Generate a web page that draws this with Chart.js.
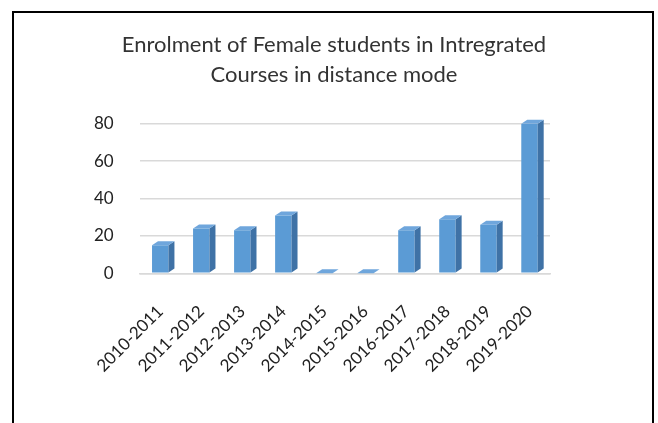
<!DOCTYPE html>
<html>
<head>
<meta charset="utf-8">
<script src="https://cdn.jsdelivr.net/npm/chart.js@4.4.0/dist/chart.umd.min.js"></script>
<style>
  html, body { margin: 0; padding: 0; background: #fff; }
  #wrap { position: relative; width: 658px; height: 423px; }
  #frame {
    position: absolute; left: 12px; top: 11px; width: 638px; height: 420px;
    border: 2px solid #000; border-bottom: none; pointer-events: none;
  }
</style>
</head>
<body>
<div id="wrap">
  <canvas id="chart" width="658" height="423"></canvas>
  <div id="frame"></div>
</div>
<script>
const years = ['2010-2011', '2011-2012', '2012-2013', '2013-2014', '2014-2015',
               '2015-2016', '2016-2017', '2017-2018', '2018-2019', '2019-2020'];
const enrolment = [15, 24, 23, 31, 0, 0, 23, 29, 26, 80];
const yTicks = [0, 20, 40, 60, 80];

// fake 3D look: side and top faces from each bar's own geometry
const depth = {
  id: 'depth',
  afterDatasetsDraw(chart) {
    const ctx = chart.ctx;
    const meta = chart.getDatasetMeta(0);
    const dx = 6, dy = -4;
    meta.data.forEach(bar => {
      const p = bar.getProps(['x', 'y', 'base', 'width'], true);
      const l = p.x - p.width / 2, r = p.x + p.width / 2;
      ctx.save();
      ctx.fillStyle = '#3F72A6';
      ctx.beginPath();
      ctx.moveTo(r, p.base);
      ctx.lineTo(r + dx, p.base + dy);
      ctx.lineTo(r + dx, p.y + dy);
      ctx.lineTo(r, p.y);
      ctx.closePath();
      ctx.fill();
      ctx.fillStyle = '#6FA6DC';
      ctx.beginPath();
      ctx.moveTo(l, p.y);
      ctx.lineTo(l + dx, p.y + dy);
      ctx.lineTo(r + dx, p.y + dy);
      ctx.lineTo(r, p.y);
      ctx.closePath();
      ctx.fill();
      ctx.restore();
    });
  }
};

new Chart(document.getElementById('chart'), {
  type: 'bar',
  data: {
    labels: years,
    datasets: [{
      data: enrolment,
      backgroundColor: '#5B9BD5',
      barPercentage: 0.4,
      categoryPercentage: 1.0
    }]
  },
  options: {
    responsive: false,
    animation: false,
    layout: {
      autoPadding: false, // first slanted label may hang out to the left
      padding: { left: 68, right: 58, top: 0, bottom: 27 }
    },
    plugins: {
      legend: { display: false },
      tooltip: { enabled: false },
      title: {
        display: true,
        text: ['Enrolment of Female students in Intregrated', 'Courses in distance mode'],
        color: '#333',
        font: { family: 'Lato', size: 22, weight: 'normal', lineHeight: 1.36 },
        padding: { top: 30, bottom: 34 }
      }
    },
    scales: {
      x: {
        grid: { display: false },
        border: { display: true, color: '#D9D9D9', width: 1.5 },
        ticks: {
          color: '#222',
          font: { family: 'Lato', size: 17 },
          maxRotation: 45, minRotation: 45,
          padding: 20
        }
      },
      y: {
        min: 0, max: 80,
        afterBuildTicks: axis => { axis.ticks = yTicks.map(v => ({ value: v })); },
        grid: { color: '#D9D9D9', lineWidth: 1.5, drawTicks: false },
        border: { display: false },
        ticks: {
          color: '#222',
          font: { family: 'Lato', size: 17 },
          padding: 26
        }
      },
      yR: {
        position: 'right',
        grid: { display: false },
        border: { display: false },
        ticks: { display: false },
        afterFit: axis => { axis.width = 50; }
      }
    }
  },
  plugins: [depth]
});
</script>
</body>
</html>
